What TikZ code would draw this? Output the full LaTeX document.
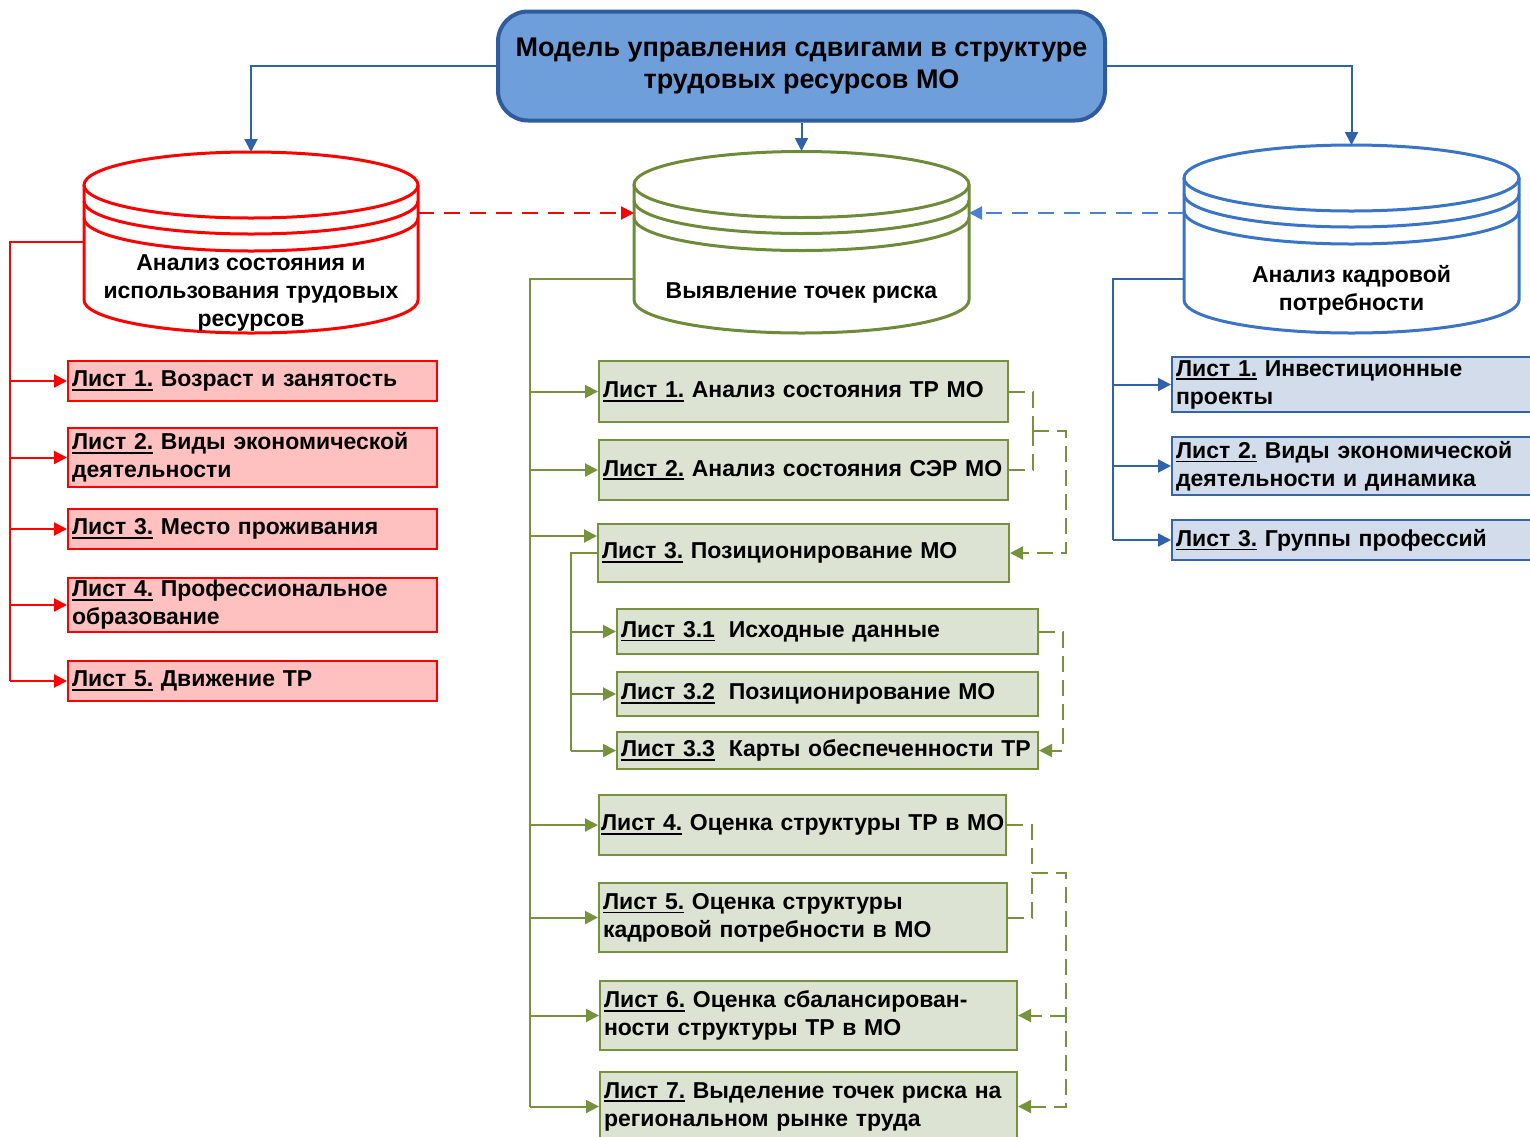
\documentclass[tikz,border=0pt]{standalone}
\usepackage{fontspec}
\setmainfont{Liberation Sans}
\usetikzlibrary{arrows.meta,calc}
\definecolor{topfill}{HTML}{6F9FDB}
\definecolor{topdraw}{HTML}{2F5B9F}
\definecolor{bconn}{HTML}{2E62AB}
\definecolor{cylblue}{HTML}{3A74C8}
\definecolor{dashblue}{HTML}{4A80D0}
\definecolor{redfill}{HTML}{FFC0C0}
\definecolor{olive}{HTML}{76923C}
\definecolor{olivedark}{HTML}{6E8B3A}
\definecolor{greenfill}{HTML}{DDE3D3}
\definecolor{bluefill}{HTML}{D2DCEB}
\definecolor{blueborder}{HTML}{3464AE}
\newcommand\sheetu[1]{\leavevmode\setbox0=\hbox{#1}\rlap{\rule[-2pt]{\wd0}{0.8pt}}\box0\relax}
% drum: #1 xL, #2 xR, #3 ellipse centre y, #4 body bottom y, #5 colour
\newcommand\drumshape[5]{%
  \pgfmathsetmacro\drx{(#2-#1)/4}%
  \pgfmathsetmacro\dcx{(#1+#2)/2}%
  \fill[white] (#1,#3) -- (#1,#4) arc[start angle=180,end angle=360,x radius=\drx pt,y radius=16.5pt]
     -- (#2,#3) arc[start angle=0,end angle=180,x radius=\drx pt,y radius=16.5pt] -- cycle;
  \draw[#5, line width=1.5pt] (\dcx,#3) ellipse[x radius=\drx pt,y radius=16.5pt];
  \draw[#5, line width=1.5pt] (#1,#3+16) arc[start angle=180,end angle=360,x radius=\drx pt,y radius=16.5pt];
  \draw[#5, line width=1.5pt] (#1,#3+33) arc[start angle=180,end angle=360,x radius=\drx pt,y radius=16.5pt];
  \draw[#5, line width=1.5pt] (#1,#3) -- (#1,#4) arc[start angle=180,end angle=360,x radius=\drx pt,y radius=16.5pt] -- (#2,#3);
}
\begin{document}
\begin{tikzpicture}[x=0.5pt,y=-0.5pt,
  font=\bfseries\fontsize{11.5}{14}\selectfont,
  box/.style={draw, line width=1pt, anchor=west, inner xsep=2pt, inner ysep=0pt, align=left},
  rbox/.style={box, draw=red, fill=redfill, text width=180.5pt},
  gbox/.style={box, draw=olive, fill=greenfill},
  bbox/.style={box, draw=blueborder, fill=bluefill, text width=183pt},
  arr/.style={-{Triangle[length=6.5pt,width=6.5pt]}},
  bline/.style={draw=bconn, line width=1pt},
  rline/.style={draw=red, line width=1pt},
  gline/.style={draw=olive, line width=1pt},
  gdash/.style={draw=olive, line width=1pt, dash pattern=on 8pt off 4pt},
  cyltext/.style={align=center, inner sep=0pt}
]
\useasboundingbox (0,0) rectangle (1530,1136);

% title
\node[draw=topdraw, fill=topfill, line width=2pt, rounded corners=15pt,
      minimum width=303.5pt, minimum height=54.5pt, align=center,
      font=\bfseries\fontsize{13.5}{16}\selectfont] (top) at (801.5,66)
      {\raisebox{-1pt}{Модель управления сдвигами в структуре}\\\raisebox{-1pt}{трудовых ресурсов МО}};

% drums
\drumshape{84}{418}{185}{300}{red}
\drumshape{634}{969}{184.5}{300}{olivedark}
\drumshape{1184}{1519}{178}{300}{cylblue}
\node[cyltext] (cylR) at (251,293) {Анализ состояния и\\использования трудовых\\ресурсов};
\node[cyltext] (cylG) at (801.5,293) {Выявление точек риска};
\node[cyltext] (cylB) at (1351.5,290) {Анализ кадровой\\потребности};

\coordinate (rtop) at (251,152);
\coordinate (gtop) at (801.5,151);
\coordinate (btop) at (1351.5,145);
\coordinate (redR) at (418,213);
\coordinate (grnL) at (634,213);
\coordinate (grnR) at (969,213);
\coordinate (bluL) at (1184,213);

\draw[bline,arr] (top.west) -| (rtop);
\draw[bline,arr] (top.south) -- (gtop);
\draw[bline,arr] (top.east) -| (btop);

\draw[draw=red, line width=1pt, dash pattern=on 8pt off 5pt, arr] (redR) -- (grnL);
\draw[draw=dashblue, line width=1pt, dash pattern=on 8pt off 5pt, arr] (bluL) -- (grnR);

% red boxes
\node[rbox, minimum height=20pt] (r1) at (67,381) {\sheetu{Лист 1.} Возраст и занятость};
\node[rbox, minimum height=29.5pt] (r2) at (67,457.5) {\sheetu{Лист 2.} Виды экономической\\деятельности};
\node[rbox, minimum height=20pt] (r3) at (67,529) {\sheetu{Лист 3.} Место проживания};
\node[rbox, minimum height=27pt] (r4) at (67,605) {\sheetu{Лист 4.} Профессиональное\\образование};
\node[rbox, minimum height=20pt] (r5) at (67,681) {\sheetu{Лист 5.} Движение ТР};

% green boxes
\node[gbox, text width=200.5pt, minimum height=30.5pt] (g1) at (598,391.5) {\sheetu{Лист 1.} Анализ состояния ТР МО};
\node[gbox, text width=200.5pt, minimum height=30pt] (g2) at (598,470) {\sheetu{Лист 2.} Анализ состояния СЭР МО};
\node[gbox, text width=201.5pt, minimum height=29pt] (g3) at (597,553) {\sheetu{Лист 3.} Позиционирование МО};
\node[gbox, text width=206.5pt, minimum height=22.5pt] (g31) at (616,631.5) {\sheetu{Лист 3.1}\hspace{0.6em}Исходные данные};
\node[gbox, text width=206.5pt, minimum height=22pt] (g32) at (616,694) {\sheetu{Лист 3.2}\hspace{0.6em}Позиционирование МО};
\node[gbox, text width=206.5pt, minimum height=18.5pt] (g33) at (616,750.5) {\sheetu{Лист 3.3}\hspace{0.6em}Карты обеспеченности ТР};
\node[gbox, text width=201.5pt, inner xsep=1pt, minimum height=30pt] (g4) at (598,825) {\mbox{\sheetu{Лист 4.} Оценка структуры ТР в МО}};
\node[gbox, text width=200pt, minimum height=34.5pt] (g5) at (598,917.5) {\sheetu{Лист 5.} Оценка структуры\\кадровой потребности в МО};
\node[gbox, text width=204.5pt, minimum height=34.5pt] (g6) at (599,1015.5) {\sheetu{Лист 6.} Оценка сбалансирован-\\ности структуры ТР в МО};
\node[gbox, text width=204.5pt, minimum height=34.5pt] (g7) at (599,1106.5) {\sheetu{Лист 7.} Выделение точек риска на\\региональном рынке труда};

% blue boxes
\node[bbox, minimum height=27.5pt] (b1) at (1171,384.5) {\sheetu{Лист 1.} Инвестиционные\\проекты};
\node[bbox, minimum height=29pt] (b2) at (1171,466) {\sheetu{Лист 2.} Виды экономической\\деятельности и динамика};
\node[bbox, minimum height=20pt] (b3) at (1171,540) {\sheetu{Лист 3.} Группы профессий};

% red bus
\coordinate (rside) at (84,242);
\coordinate (rbus) at (10,242);
\draw[rline] (rside) -- (rbus) -- (rbus |- r5.west);
\foreach \n in {r1,r2,r3,r4,r5} \draw[rline,arr] (rbus |- \n.west) -- (\n.west);

% green bus
\coordinate (gside) at (634,279);
\coordinate (gbus) at (530,279);
\coordinate (g3in) at (597,536);
\draw[gline] (gside) -- (gbus) -- (gbus |- g7.west);
\foreach \n in {g1,g2,g4,g5,g6,g7} \draw[gline,arr] (gbus |- \n.west) -- (\n.west);
\draw[gline,arr] (gbus |- g3in) -- (g3in);
\coordinate (sbus) at (571,553);
\draw[gline] (g3.west) -- (sbus) -- (sbus |- g33.west);
\foreach \n in {g31,g32,g33} \draw[gline,arr] (sbus |- \n.west) -- (\n.west);

% blue bus
\coordinate (bside) at (1184,279);
\coordinate (bbus) at (1113,279);
\draw[bline] (bside) -- (bbus) -- (bbus |- b3.west);
\foreach \n in {b1,b2,b3} \draw[bline,arr] (bbus |- \n.west) -- (\n.west);

% dashed links
\coordinate (j1) at (1033,431);
\coordinate (k1) at (1066,431);
\draw[gdash] (g1.east) -| (j1);
\draw[gdash] (g2.east) -| (j1);
\draw[gdash,arr] (j1) -- (k1) |- (g3.east);
\coordinate (k2) at (1063,631.5);
\draw[gdash,arr] (g31.east) -- (k2) |- (g33.east);
\coordinate (j3) at (1032,873);
\coordinate (k3) at (1066,873);
\draw[gdash] (g4.east) -| (j3);
\draw[gdash] (g5.east) -| (j3);
\draw[gdash,arr] (j3) -- (k3) |- (g7.east);
\draw[gdash,arr] (k3 |- g6.east) -- (g6.east);
\end{tikzpicture}
\end{document}
